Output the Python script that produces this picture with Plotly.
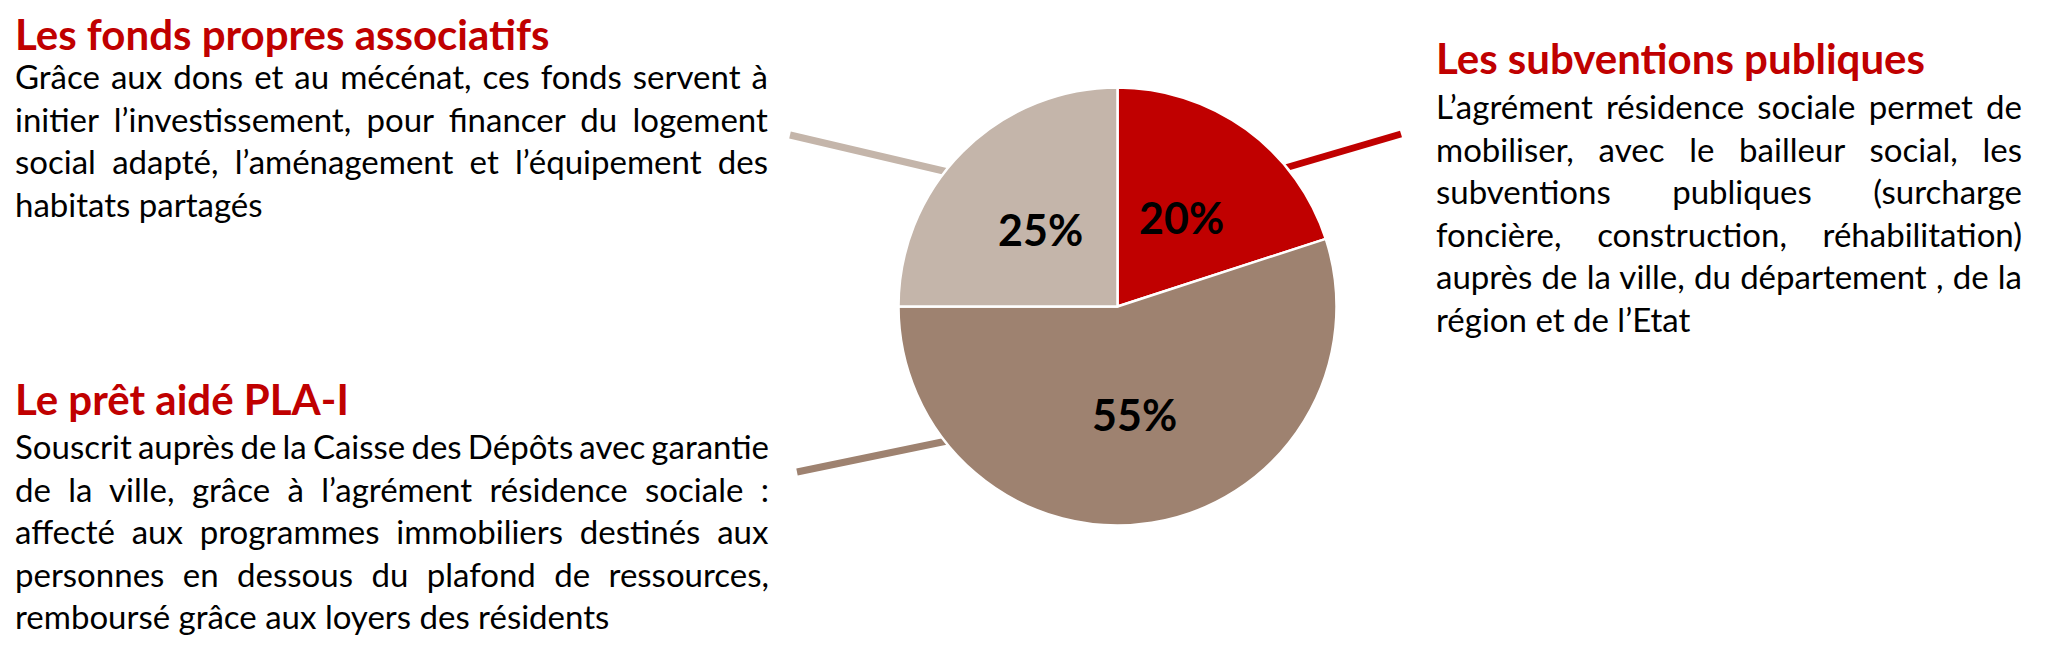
import math
import json
import plotly.graph_objects as go

W, H = 2048, 657

# ---- data ----
categories = ["Les subventions publiques", "Le prêt aidé PLA-I", "Les fonds propres associatifs"]
values = [20, 55, 25]
colors = ["#C00000", "#9E8270", "#C4B5AA"]

title_fonds = "Les fonds propres associatifs"
lines_fonds = [
    "Grâce aux dons et au mécénat, ces fonds servent à",
    "initier l’investissement, pour financer du logement",
    "social adapté, l’aménagement et l’équipement des",
    "habitats partagés",
]
title_pret = "Le prêt aidé PLA-I"
lines_pret = [
    "Souscrit auprès de la Caisse des Dépôts avec garantie",
    "de la ville, grâce à l’agrément résidence sociale :",
    "affecté aux programmes immobiliers destinés aux",
    "personnes en dessous du plafond de ressources,",
    "remboursé grâce aux loyers des résidents",
]
title_subv = "Les subventions publiques"
lines_subv = [
    "L’agrément résidence sociale permet de",
    "mobiliser, avec le bailleur social, les",
    "subventions publiques (surcharge",
    "foncière, construction, réhabilitation)",
    "auprès de la ville, du département , de la",
    "région et de l’Etat",
]

# ---- layout helpers (page pixel -> paper); page body has an 8px margin ----
OFF = 8

def px(x):
    return (x - OFF) / W

def py(y):
    return 1 - (y - OFF) / H

CX, CY, R = 1117.5, 306.5, 219

FONT = "Lato"
TITLE_SIZE = 42
BODY_SIZE = 33
PCT_SIZE = 43
BASE = 0.387  # baseline offset below box centre, in em (Lato)

fig = go.Figure()
fig.add_trace(go.Pie(
    labels=categories,
    values=values,
    sort=False,
    direction="clockwise",
    rotation=0,
    marker=dict(colors=colors, line=dict(color="white", width=2.5)),
    textinfo="none",
    hoverinfo="label+percent",
    showlegend=False,
    domain=dict(x=[px(CX - R), px(CX + R)], y=[py(CY + R), py(CY - R)]),
))

annotations = []
total = sum(values)
cum = 0
for v in values:
    mid = (cum + v / 2) / total * 2 * math.pi
    cum += v
    lx = CX + 0.5 * R * math.sin(mid)
    ly = CY - 0.5 * R * math.cos(mid)
    annotations.append(dict(
        x=px(lx), y=py(ly), xref="paper", yref="paper",
        text=f"<b>{round(v / total * 100)}%</b>", showarrow=False,
        xanchor="center", yanchor="middle", borderpad=0,
        font=dict(family=FONT, size=PCT_SIZE, color="black"),
    ))

justify = {}

def block(title, lines, x, t_base, b_base, dy, right):
    annotations.append(dict(
        x=px(x), y=py(t_base - BASE * TITLE_SIZE), xref="paper", yref="paper",
        text=f"<b>{title}</b>", showarrow=False, xanchor="left", yanchor="middle",
        align="left", borderpad=0,
        font=dict(family=FONT, size=TITLE_SIZE, color="#C00000"),
    ))
    for i, ln in enumerate(lines):
        annotations.append(dict(
            x=px(x), y=py(b_base + i * dy - BASE * BODY_SIZE), xref="paper", yref="paper",
            text=ln, showarrow=False, xanchor="left", yanchor="middle", align="left",
            borderpad=0,
            font=dict(family=FONT, size=BODY_SIZE, color="black"),
        ))
        if i < len(lines) - 1:
            justify[ln] = right

block(title_fonds, lines_fonds, 14, 50, 89, 42.5, 768)
block(title_pret, lines_pret, 14, 415, 459, 42.5, 769)
block(title_subv, lines_subv, 1435, 74, 119, 42.5, 2022)

leaders = [
    ((790, 135), (948, 172), colors[2]),
    ((1285, 168), (1401, 134), colors[0]),
    ((797, 472), (947, 441), colors[1]),
]
shapes = []
for (x0, y0), (x1, y1), c in leaders:
    shapes.append(dict(type="line", xref="paper", yref="paper",
                       x0=px(x0), y0=py(y0), x1=px(x1), y1=py(y1),
                       line=dict(color=c, width=7), layer="below"))

fig.update_layout(
    width=W, height=H,
    margin=dict(l=0, r=0, t=0, b=0),
    paper_bgcolor="white", plot_bgcolor="white",
    annotations=annotations, shapes=shapes,
)

js = """
var gd = document.getElementById('{plot_id}');
var J = """ + json.dumps(justify) + """;
function justifyLines(){
  gd.querySelectorAll('text.annotation-text').forEach(function(t){
    var key = t.textContent.replace(/\\u00a0/g, ' ');
    if (!(key in J)) return;
    t.style.wordSpacing = '0px';
    var n = (key.match(/ /g) || []).length;
    if (n === 0) return;
    var r = t.getBoundingClientRect();
    t.style.wordSpacing = ((J[key] - r.right) / n) + 'px';
  });
}
(document.fonts ? document.fonts.ready : Promise.resolve()).then(justifyLines);
"""

fig.write_html("out.html", post_script=js)
